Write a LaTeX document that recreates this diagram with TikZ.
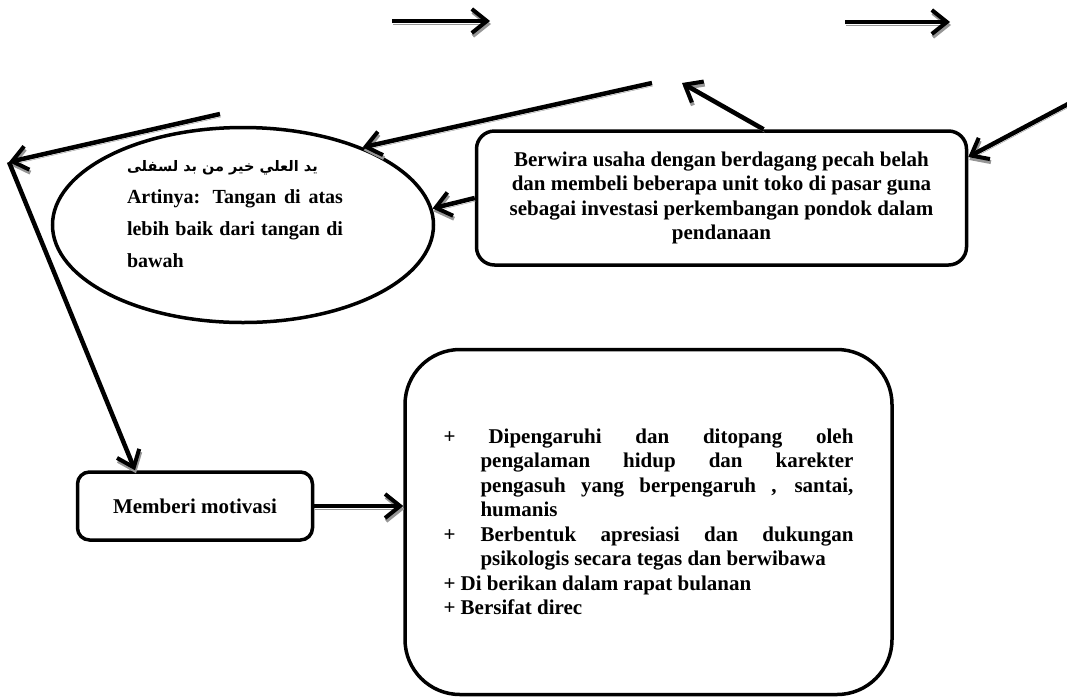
\documentclass[tikz,border=0pt]{standalone}
\usepackage{fontspec}
\setmainfont{Liberation Serif}
\newfontfamily\arabicfont[Script=Arabic]{DejaVu Sans}
\TeXXeTstate=1
\usepackage{xcolor}
\definecolor{Col1}{RGB}{0,0,0}
\definecolor{Col2}{RGB}{150,150,150}
\usepackage{tikz}
\usetikzlibrary{shapes.geometric}
\usetikzlibrary{arrows.meta}
\tikzstyle{Box}=[draw=Col1,line width=3.5pt,rounded corners=18pt,fill=white,
font=\fontsize{21}{24.5}\selectfont\bfseries]
\tikzstyle{Edge}=[draw=Col1,line width=4.5pt,
-{Straight Barb[length=15pt,width=24pt,line width=4pt]},
preaction={draw=Col2,transform canvas={shift={(1pt,-3pt)}}}]
\tikzstyle{NodeST}=[font=\fontsize{20}{32}\selectfont\bfseries]

\begin{document}
\begin{tikzpicture}[x=1pt,y=-1pt]
        \useasboundingbox(0,0)rectangle(1067,697);
        \node[Box,ellipse,rounded corners=0pt,minimum width=381pt,
            minimum height=195pt](1)at(243,225){};
        \node[NodeST](2)at(235,214){\parbox{216pt}{%
            \mbox{\fontsize{14.5}{29}\arabicfont\bfseries\beginR يد العلي خير من بد لسفلى\endR}\par
            Artinya: Tangan di atas\linebreak lebih baik dari tangan di\linebreak bawah}};
        \node[Box,minimum width=490pt,minimum height=134pt,align=center](3)
            at(721.5,198){Berwira usaha dengan berdagang pecah belah\\
            dan membeli beberapa unit toko di pasar guna\\
            sebagai investasi perkembangan pondok dalam\\ pendanaan};
        \node[Box,rounded corners=12pt,minimum width=235pt,minimum height=68pt](4)
            at(195,506){Memberi motivasi};
        \node[Box,rounded corners=55pt,minimum width=487pt,minimum height=345pt](5)
            at(648.5,522){\parbox{410pt}{%
            \hangindent=37pt\hangafter=1\makebox[45pt][l]{+}Dipengaruhi dan ditopang oleh\linebreak
            pengalaman hidup dan karekter\linebreak pengasuh yang berpengaruh , santai,\linebreak
            humanis\par
            \hangindent=37pt\hangafter=1\makebox[37pt][l]{+}Berbentuk apresiasi dan dukungan\linebreak
            psikologis secara tegas dan berwibawa\par
            + Di berikan dalam rapat bulanan\par
            + Bersifat direc}};
        \coordinate(a)at(392,21);
        \coordinate(b)at(490,21);
        \coordinate(c)at(845,22);
        \coordinate(d)at(950,22);
        \coordinate(e)at(652,83);
        \coordinate(f)at(682,83);
        \coordinate(g)at(1070,103);
        \coordinate(h)at(220,114);
        \coordinate(k)at(9,162);
        \draw[Edge](a)--(b);
        \draw[Edge](c)--(d);
        \draw[Edge](e)--(1.33);
        \draw[Edge](3.west)--(1.5);
        \draw[Edge]([xshift=42pt]3.north)--(f);
        \draw[Edge](g)--([yshift=41pt]3.east);
        \draw[Edge](h)--(k);
        \draw[Edge](k)--([xshift=-60pt]4.north);
        \draw[Edge](4.east)--(4.east-|5.west);
    \end{tikzpicture}
\end{document}
